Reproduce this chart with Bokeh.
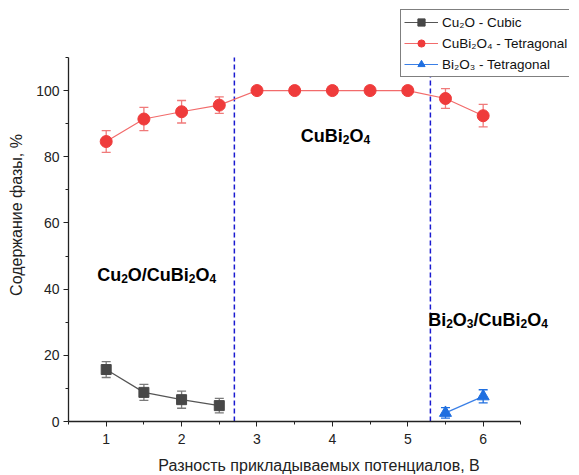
from bokeh.plotting import figure
from bokeh.models import (ColumnDataSource, Whisker, TeeHead, Legend, LegendItem,
                          Range1d, FixedTicker, Label)
from bokeh.embed import file_html
from bokeh.resources import INLINE

# ---- data ----
cu2o_x = [1, 1.5, 2, 2.5]
cu2o_y = [15.7, 8.8, 6.6, 4.8]
cu2o_err = [2.4, 2.4, 2.6, 2.2]

cubi_x = [1, 1.5, 2, 2.5, 3, 3.5, 4, 4.5, 5, 5.5, 6]
cubi_y = [84.6, 91.4, 93.6, 95.6, 100, 100, 100, 100, 100, 97.6, 92.4]
cubi_err = [3.3, 3.5, 3.4, 2.5, 0, 0, 0, 0, 0, 3.0, 3.4]

bi_x = [5.5, 6]
bi_y = [2.6, 7.6]
bi_err = [1.6, 2.0]

borders = [2.7, 5.3]

x_ticks = [1, 2, 3, 4, 5, 6]
y_ticks = [0, 20, 40, 60, 80, 100]
x_axis_bounds = (0.5, 6.5)
y_axis_bounds = (0, 110)

# region labels: pieces of (text, is_subscript)
region_labels = [
    [("Cu", 0), ("2", 1), ("O/CuBi", 0), ("2", 1), ("O", 0), ("4", 1)],
    [("CuBi", 0), ("2", 1), ("O", 0), ("4", 1)],
    [("Bi", 0), ("2", 1), ("O", 0), ("3", 1), ("/CuBi", 0), ("2", 1), ("O", 0), ("4", 1)],
]
region_x = [0.88, 3.58, 5.27]
region_y = [44.4, 86.4, 30.8]

series_names = ["Cu₂O - Cubic", "CuBi₂O₄ - Tetragonal", "Bi₂O₃ - Tetragonal"]

FONT = "Liberation Sans"
MAIN_PX = 18
SUB_PX = 12
# Arial/Liberation Sans Bold advance widths (per 1000 em)
BOLD_W = {"C": 722, "u": 611, "B": 722, "i": 278, "O": 778, "/": 278,
          "2": 556, "3": 556, "4": 556}

p = figure(frame_width=501, frame_height=413, output_backend="svg", toolbar_location=None,
           title=None,
           x_range=Range1d(0.5, 7.145), y_range=Range1d(0, 124.8),
           min_border_left=68, min_border_right=0, min_border_top=8, min_border_bottom=0)
p.outline_line_color = None
p.xgrid.visible = False
p.ygrid.visible = False
p.background_fill_color = "white"

for ax in (p.xaxis[0], p.yaxis[0]):
    ax.axis_line_color = "#222222"
    ax.axis_line_width = 1.3
    ax.major_tick_line_color = "#222222"
    ax.minor_tick_line_color = "#222222"
    ax.major_tick_in = 0
    ax.major_tick_out = 5
    ax.minor_tick_in = 0
    ax.minor_tick_out = 3
    ax.major_label_text_font = FONT
    ax.major_label_text_font_size = "14px"
    ax.major_label_text_color = "#222222"
    ax.axis_label_text_font = FONT
    ax.axis_label_text_font_size = "16px"
    ax.axis_label_text_font_style = "normal"
    ax.axis_label_text_color = "#222222"

p.xaxis.bounds = x_axis_bounds
p.yaxis.bounds = y_axis_bounds
p.xaxis.ticker = FixedTicker(ticks=x_ticks, minor_ticks=[v + 0.5 for v in [0] + x_ticks])
p.yaxis.ticker = FixedTicker(ticks=y_ticks, minor_ticks=[v + 10 for v in y_ticks])
p.xaxis.axis_label = "Разность прикладываемых потенциалов, В"
p.yaxis.axis_label = "Содержание фазы, %"
p.xaxis.major_label_standoff = 7
p.xaxis.axis_label_standoff = 10
p.yaxis.major_label_standoff = 4
p.yaxis.axis_label_standoff = 8

# vertical dashed borders (span the axis height)
p.segment(x0=borders, x1=borders, y0=[y_axis_bounds[0]] * len(borders),
          y1=[y_axis_bounds[1]] * len(borders), line_color="#1a1ad0",
          line_dash="5 3", line_width=1.5)

def series(xs, ys, errs, line_col, mark_col, err_col, marker, size):
    src = ColumnDataSource(dict(x=xs, y=ys,
                                upper=[a + e for a, e in zip(ys, errs)],
                                lower=[a - e for a, e in zip(ys, errs)]))
    w = Whisker(base="x", upper="upper", lower="lower", source=src,
                line_color=err_col, line_width=1.3,
                upper_head=TeeHead(size=9, line_color=err_col, line_width=1.3),
                lower_head=TeeHead(size=9, line_color=err_col, line_width=1.3))
    p.add_layout(w)
    l = p.line("x", "y", source=src, line_color=line_col, line_width=1.2)
    s = p.scatter("x", "y", source=src, marker=marker, size=size,
                  fill_color=mark_col, line_color=mark_col)
    return [l, s]

r1 = series(cu2o_x, cu2o_y, cu2o_err, "#555555", "#474747", "#7a7a7a", "square", 10)
r2 = series(cubi_x, cubi_y, cubi_err, "#f26b6b", "#ef3b3b", "#f07a7a", "circle", 12)
r3 = series(bi_x, bi_y, bi_err, "#3a7fe6", "#1f6fe0", "#1f6fe0", "triangle", 12)

for pieces, lx, ly in zip(region_labels, region_x, region_y):
    off = 0.0
    for txt, sub in pieces:
        px = SUB_PX if sub else MAIN_PX
        p.add_layout(Label(x=lx, y=ly, x_offset=off, y_offset=-4 if sub else 0,
                           text=txt, text_font=FONT, text_font_size=f"{px}px",
                           text_font_style="bold", text_baseline="alphabetic",
                           text_align="left", text_color="black"))
        off += sum(BOLD_W.get(c, 600) for c in txt) * px / 1000.0

legend = Legend(items=[LegendItem(label=series_names[0], renderers=r1),
                       LegendItem(label=series_names[1], renderers=r2),
                       LegendItem(label=series_names[2], renderers=r3)],
                location=(332, 344), border_line_color="black", border_line_width=1,
                label_text_font=FONT, label_text_font_size="13.5px",
                label_text_color="#111111", glyph_width=34, glyph_height=18,
                label_height=18, spacing=3, padding=3, margin=0,
                label_standoff=4, background_fill_alpha=1)
p.add_layout(legend)

open("out.html", "w").write(file_html(p, INLINE))
